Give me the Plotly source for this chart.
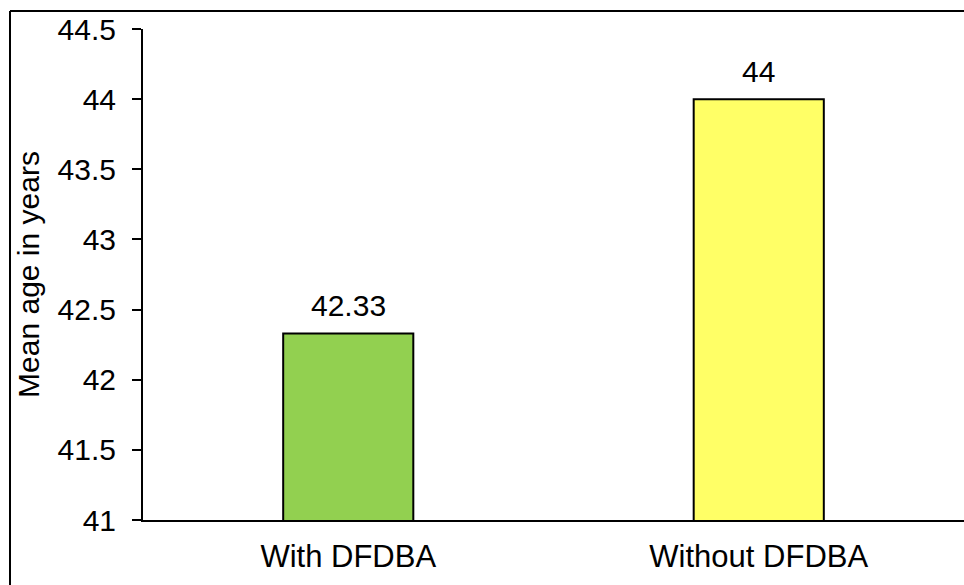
import plotly.graph_objects as go

# Mean age per group
categories = ["With DFDBA", "Without DFDBA"]
mean_age = [42.33, 44]
value_labels = ["42.33", "44"]
bar_colors = ["#92D050", "#FFFF66"]

y_ticks = [41, 41.5, 42, 42.5, 43, 43.5, 44, 44.5]
y_tick_text = ["41", "41.5", "42", "42.5", "43", "43.5", "44", "44.5"]

FONT = "Liberation Sans, Arial, sans-serif"

fig = go.Figure(
    go.Bar(
        x=categories,
        y=mean_age,
        width=0.317,
        marker=dict(color=bar_colors, line=dict(color="black", width=2)),
        cliponaxis=False,
    )
)

# value labels above each bar
for cat, val, lab in zip(categories, mean_age, value_labels):
    fig.add_annotation(x=cat, y=val, text=lab, showarrow=False,
                       xanchor="center", yanchor="bottom", yshift=9,
                       font=dict(family=FONT, size=30, color="black"))

W, H = 964, 585
ml, mr, mt, mb = 143, 0, 29, 65
plot_w = W - ml - mr
plot_h = H - mt - mb

# outer frame (left and top edges visible)
fx = (10 - ml) / plot_w
fy = 1 + (mt - 11) / plot_h
fig.add_shape(type="line", xref="paper", yref="paper",
              x0=fx, x1=fx, y0=-0.5, y1=fy, line=dict(color="black", width=2))
fig.add_shape(type="line", xref="paper", yref="paper",
              x0=fx, x1=1.5, y0=fy, y1=fy, line=dict(color="black", width=2))

fig.update_layout(
    width=W,
    height=H,
    margin=dict(l=ml, r=mr, t=mt, b=mb, pad=0),
    paper_bgcolor="white",
    plot_bgcolor="white",
    showlegend=False,
    font=dict(family=FONT, size=30, color="black"),
    xaxis=dict(
        type="category",
        range=[-0.5, 1.5],
        showline=True,
        linecolor="black",
        linewidth=2,
        ticks="",
        showgrid=False,
        ticklabelstandoff=8,
        tickfont=dict(family=FONT, size=31, color="black"),
    ),
    yaxis=dict(
        range=[41, 44.5],
        tickvals=y_ticks,
        ticktext=y_tick_text,
        showline=True,
        linecolor="black",
        linewidth=2,
        ticks="outside",
        ticklen=9,
        tickwidth=2,
        tickcolor="black",
        showgrid=False,
        zeroline=False,
        ticklabelstandoff=10,
        tickfont=dict(family=FONT, size=30, color="black"),
        title=dict(text="Mean age in years",
                   font=dict(family=FONT, size=30, color="black"),
                   standoff=9),
    ),
)

fig.write_html("out.html")
